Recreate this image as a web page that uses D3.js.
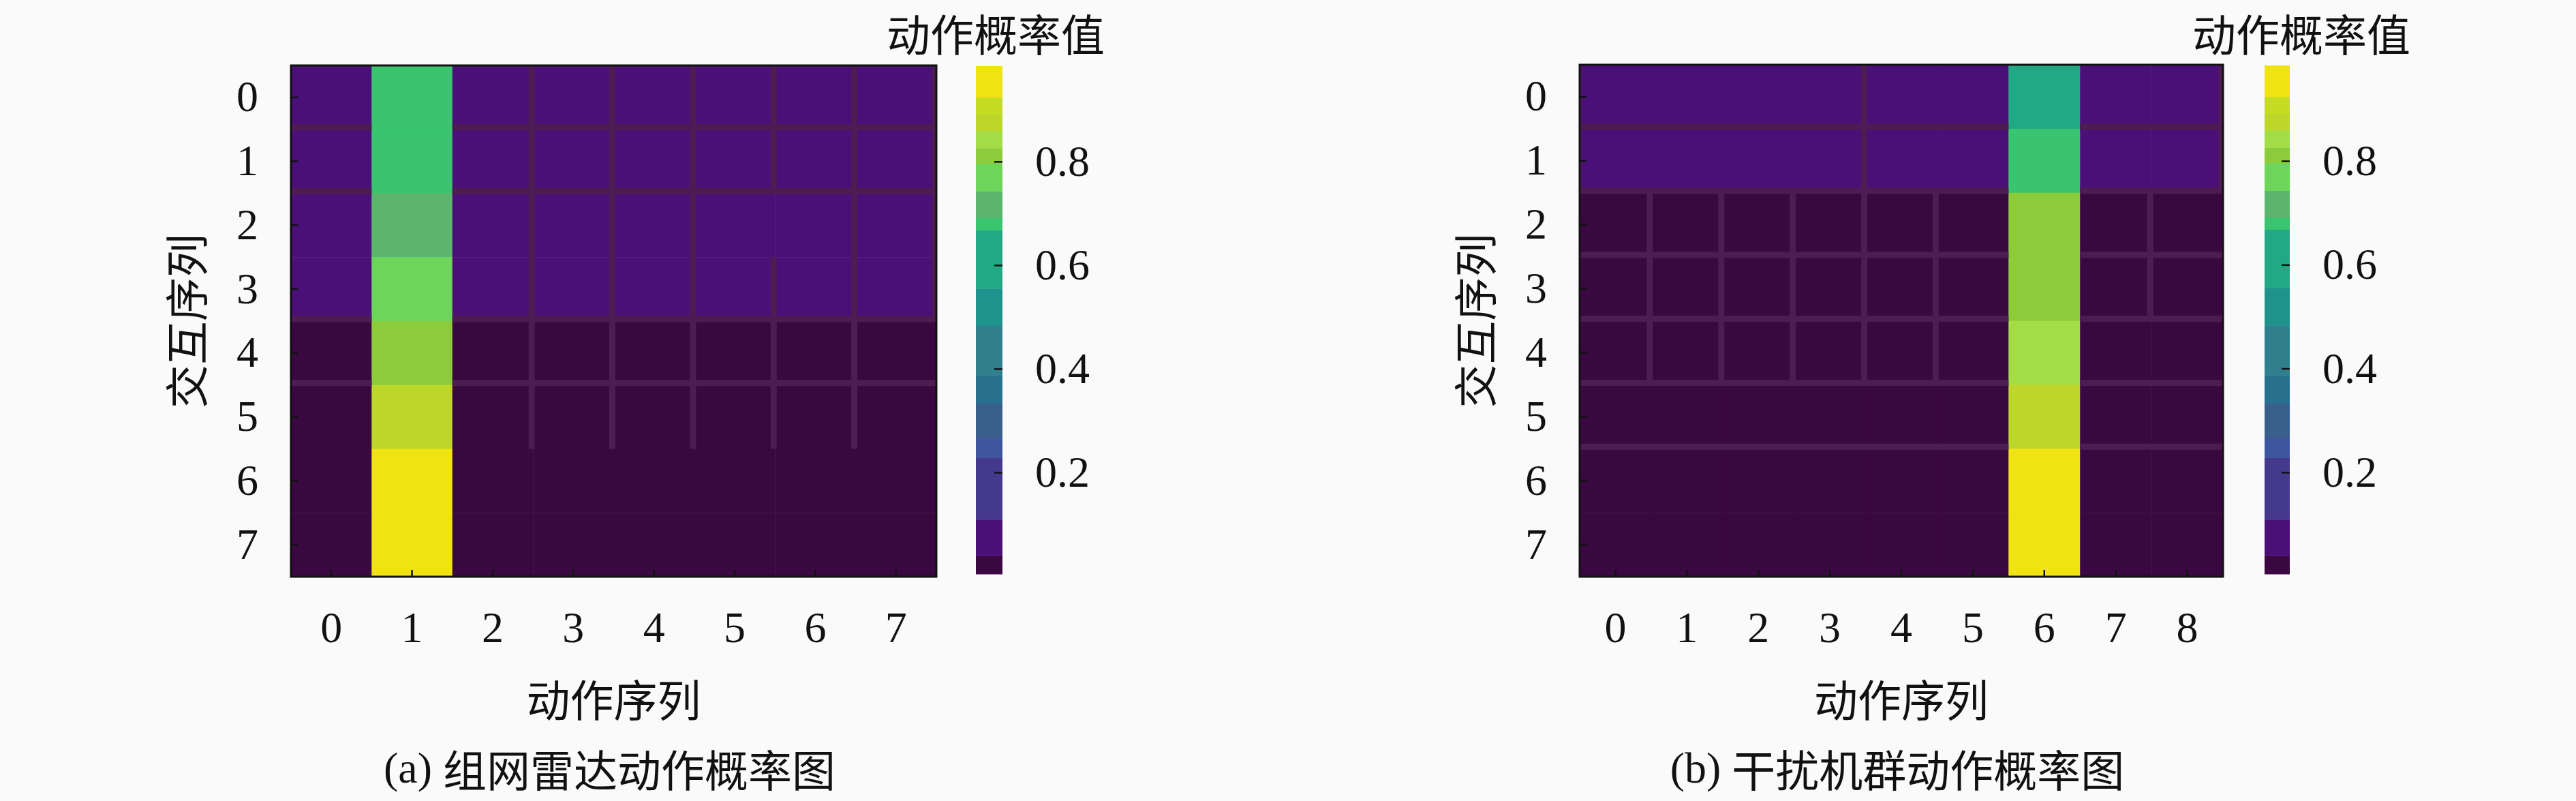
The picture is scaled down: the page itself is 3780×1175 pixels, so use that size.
<!DOCTYPE html>
<html>
<head>
<meta charset="utf-8">
<script src="https://cdn.jsdelivr.net/npm/d3@7"></script>
<style>
  html, body { margin: 0; padding: 0; background: #fafafa; }
  svg { display: block; }
  .num { font-family: "Liberation Serif", "DejaVu Serif", serif; font-size: 64px; fill: #111; }
  .cjk { font-family: "Noto Sans CJK SC", sans-serif; font-size: 64px; fill: #111; }
</style>
</head>
<body>
<div id="chart"></div>
<script>
// ---- data ----
const radarRowLabels = ["0", "1", "2", "3", "4", "5", "6", "7"];
const radarColLabels = ["0", "1", "2", "3", "4", "5", "6", "7"];
const jammerRowLabels = ["0", "1", "2", "3", "4", "5", "6", "7"];
const jammerColLabels = ["0", "1", "2", "3", "4", "5", "6", "7", "8"];

// 组网雷达: 行 = 交互序列, 列 = 动作序列
const radarProb = [
  [0.046, 0.68, 0.046, 0.046, 0.046, 0.046, 0.046, 0.046],
  [0.046, 0.68, 0.046, 0.046, 0.046, 0.046, 0.046, 0.046],
  [0.041, 0.72, 0.041, 0.041, 0.041, 0.041, 0.041, 0.041],
  [0.041, 0.77, 0.041, 0.041, 0.041, 0.041, 0.041, 0.041],
  [0.027, 0.81, 0.027, 0.027, 0.027, 0.027, 0.027, 0.027],
  [0.017, 0.88, 0.017, 0.017, 0.017, 0.017, 0.017, 0.017],
  [0.006, 0.96, 0.006, 0.006, 0.006, 0.006, 0.006, 0.006],
  [0.004, 0.98, 0.004, 0.004, 0.004, 0.004, 0.004, 0.004]
];

// 干扰机群
const jammerProb = [
  [0.048, 0.048, 0.048, 0.048, 0.048, 0.048, 0.62, 0.048, 0.048],
  [0.040, 0.040, 0.040, 0.040, 0.040, 0.040, 0.68, 0.040, 0.040],
  [0.024, 0.024, 0.024, 0.024, 0.024, 0.024, 0.81, 0.024, 0.024],
  [0.024, 0.024, 0.024, 0.024, 0.024, 0.024, 0.81, 0.024, 0.024],
  [0.020, 0.020, 0.020, 0.020, 0.020, 0.020, 0.84, 0.020, 0.020],
  [0.015, 0.015, 0.015, 0.015, 0.015, 0.015, 0.88, 0.015, 0.015],
  [0.005, 0.005, 0.005, 0.005, 0.005, 0.005, 0.96, 0.005, 0.005],
  [0.004, 0.004, 0.004, 0.004, 0.004, 0.004, 0.98, 0.004, 0.004]
];

// visible cell-edge lines, in grid units: [boundary, from, to]
const radarHEdges = [[0,0,1],[0,2,8],[1,0,1],[1,2,8],[2,0,1],[2,2,8],[4,0,1],[4,2,8],[5,0,1],[5,2,8]];
const radarVEdges = [[3,0,6],[4,0,6],[5,0,6],[6,0,2],[6,3,6],[7,0,6],[8,0,4]];
const jammerHEdges = [[0,0,6],[0,7,9],[1,0,6],[1,7,9],[2,0,6],[2,7,9],[3,0,6],[3,7,9],
                      [4,0,6],[4,7,9],[5,0,6],[5,7,9],[6,0,6],[6,7,9]];
const jammerVEdges = [[0,0,2],[4,0,2],[9,0,2],[1,2,5],[2,2,5],[3,2,5],[4,2,5],[5,2,5],[8,2,4]];

// colour bar (discrete bands as drawn in the figure)
const cbDomain = [0.004, 0.984];
const cbThresholds = [0.039, 0.109, 0.228, 0.267, 0.333, 0.386, 0.483, 0.555,
                      0.668, 0.691, 0.743, 0.796, 0.826, 0.859, 0.891, 0.924];
const cbColors = ["#3a0840", "#4b1078", "#44398c", "#3e56a0", "#3a5f8a", "#27708e",
                  "#2f7f8d", "#1f928c", "#22a884", "#3ac46f", "#5cb56d", "#6dd55a",
                  "#8ccb3a", "#a2dc47", "#bcd62a", "#c4dc22", "#efe312"];
const cbTicks = [0.2, 0.4, 0.6, 0.8];

const color = d3.scaleThreshold().domain(cbThresholds).range(cbColors);

const width = 3780, height = 1175;
const svg = d3.select("#chart").append("svg")
  .attr("width", width).attr("height", height)
  .attr("viewBox", `0 0 ${width} ${height}`);

svg.append("rect").attr("width", width).attr("height", height).attr("fill", "#fafafa");

function drawPanel(p) {
  const x = d3.scaleBand().domain(p.cols).range([p.left, p.right]);
  const y = d3.scaleBand().domain(p.rows).range([p.top, p.bottom]);
  const xb = d3.scaleLinear().domain([0, p.cols.length]).range([p.left, p.right]);
  const yb = d3.scaleLinear().domain([0, p.rows.length]).range([p.top, p.bottom]);

  const cells = p.values.flatMap((row, i) =>
    row.map((v, j) => ({ r: p.rows[i], c: p.cols[j], v })));

  const g = svg.append("g");
  const clipId = "clip-" + p.id;
  svg.append("clipPath").attr("id", clipId).append("rect")
    .attr("x", p.left).attr("y", p.top)
    .attr("width", p.right - p.left).attr("height", p.bottom - p.top);

  g.append("g").selectAll("rect").data(cells).join("rect")
    .attr("x", d => x(d.c))
    .attr("y", d => y(d.r))
    .attr("width", x.bandwidth() + 0.5)
    .attr("height", y.bandwidth() + 0.5)
    .attr("fill", d => color(d.v));

  const edges = g.append("g").attr("clip-path", `url(#${clipId})`)
    .attr("stroke", "#4c1c52").attr("stroke-width", 9);
  edges.selectAll("line.h").data(p.hEdges).join("line").attr("class", "h")
    .attr("x1", d => xb(d[1])).attr("x2", d => xb(d[2]))
    .attr("y1", d => yb(d[0]) - 3).attr("y2", d => yb(d[0]) - 3);
  edges.selectAll("line.v").data(p.vEdges).join("line").attr("class", "v")
    .attr("y1", d => yb(d[1])).attr("y2", d => yb(d[2]))
    .attr("x1", d => xb(d[0]) - 2).attr("x2", d => xb(d[0]) - 2);

  // frame
  g.append("rect")
    .attr("x", p.left).attr("y", p.top)
    .attr("width", p.right - p.left).attr("height", p.bottom - p.top)
    .attr("fill", "none").attr("stroke", "#111").attr("stroke-width", 3);

  const yAxis = g.append("g").attr("transform", `translate(${p.left},0)`)
    .call(d3.axisLeft(y).tickSize(-10).tickPadding(48));
  const xAxis = g.append("g").attr("transform", `translate(0,${p.bottom})`)
    .call(d3.axisBottom(x).tickSize(-10).tickPadding(51));
  [yAxis, xAxis].forEach(a => {
    a.attr("font-size", null).attr("font-family", null);
    a.select(".domain").remove();
    a.selectAll(".tick line").attr("stroke", "#111").attr("stroke-width", 2.5);
    a.selectAll(".tick text").attr("class", "num");
  });

  // colour bar
  const cy = d3.scaleLinear().domain(cbDomain).range([p.cbBottom, p.cbTop]);
  const bounds = [cbDomain[0], ...cbThresholds, cbDomain[1]];
  const bands = cbColors.map((c, i) => ({ lo: bounds[i], hi: bounds[i + 1], c }));
  g.append("g").selectAll("rect").data(bands).join("rect")
    .attr("x", p.cbLeft).attr("width", p.cbRight - p.cbLeft)
    .attr("y", d => cy(d.hi)).attr("height", d => cy(d.lo) - cy(d.hi) + 0.5)
    .attr("fill", d => d.c);
  const cAxis = g.append("g").attr("transform", `translate(${p.cbRight},0)`)
    .call(d3.axisRight(cy).tickValues(cbTicks).tickFormat(d3.format(".1f"))
      .tickSize(-12).tickPadding(48));
  cAxis.attr("font-size", null).attr("font-family", null);
  cAxis.select(".domain").remove();
  cAxis.selectAll(".tick line").attr("stroke", "#111").attr("stroke-width", 2.5);
  cAxis.selectAll(".tick text").attr("class", "num");

  g.append("text").attr("class", "cjk")
    .attr("x", p.cbTitleX).attr("y", 47)
    .attr("text-anchor", "middle").attr("dominant-baseline", "central")
    .text("动作概率值");

  const midX = (p.left + p.right) / 2;
  const midY = (p.top + p.bottom) / 2;
  g.append("text").attr("class", "cjk")
    .attr("transform", `translate(${p.left - 157},${midY}) rotate(-90)`)
    .attr("text-anchor", "middle").attr("dominant-baseline", "central")
    .text("交互序列");
  g.append("text").attr("class", "cjk")
    .attr("x", midX).attr("y", 1023)
    .attr("text-anchor", "middle").attr("dominant-baseline", "central")
    .text("动作序列");

  const cap = g.append("text").attr("x", midX - 6).attr("y", 1126)
    .attr("text-anchor", "middle").attr("dominant-baseline", "central");
  cap.append("tspan").attr("class", "num").text(p.tag + " ");
  cap.append("tspan").attr("class", "cjk").text(p.caption);
}

drawPanel({
  id: "a", rows: radarRowLabels, cols: radarColLabels, values: radarProb,
  hEdges: radarHEdges, vEdges: radarVEdges,
  left: 427, right: 1374, top: 96, bottom: 846,
  cbLeft: 1432, cbRight: 1471, cbTop: 97, cbBottom: 842, cbTitleX: 1461,
  tag: "(a)", caption: "组网雷达动作概率图"
});

drawPanel({
  id: "b", rows: jammerRowLabels, cols: jammerColLabels, values: jammerProb,
  hEdges: jammerHEdges, vEdges: jammerVEdges,
  left: 2318, right: 3262, top: 95, bottom: 846,
  cbLeft: 3323, cbRight: 3360, cbTop: 96, cbBottom: 842, cbTitleX: 3377,
  tag: "(b)", caption: "干扰机群动作概率图"
});
</script>
</body>
</html>
